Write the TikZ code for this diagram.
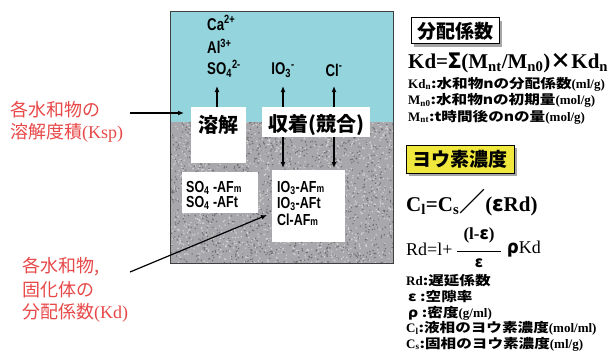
\documentclass[tikz,border=0pt]{standalone}
\usepackage{fontspec}
\setmainfont{Liberation Serif}
\newfontfamily\jp{Noto Sans CJK JP}
\newfontfamily\jpw{Noto Sans CJK JP}[FakeStretch=1.2]
\newfontfamily\chem{Liberation Sans}[FakeStretch=0.78]
\usetikzlibrary{arrows.meta,shadows}
\definecolor{cyanbg}{RGB}{148,212,221}
\definecolor{graybg}{RGB}{168,168,172}
\definecolor{lblred}{RGB}{232,72,72}
\definecolor{ttlyellow}{RGB}{240,232,60}
\newcommand{\sbs}[1]{\textsubscript{#1}}
\newcommand{\sps}[1]{\textsuperscript{#1}}
\tikzset{
  whitebox/.style={fill=white, inner sep=0pt},
  chemtxt/.style={font=\chem\bfseries\fontsize{17}{17}\selectfont, inner sep=0pt},
  boxtxt/.style={font=\chem\bfseries\fontsize{16}{16}\selectfont, inner sep=0pt, anchor=west},
  kanji/.style={font=\jp\bfseries\fontsize{20}{20}\selectfont, inner sep=0pt},
  redtxt/.style={text=lblred, font=\jp\fontsize{18}{18}\selectfont, inner sep=0pt, anchor=west},
  arr/.style={-{Latex[length=6pt,width=5pt]}, line width=1.4pt},
  small/.style={font=\jpw\bfseries\fontsize{13}{13}\selectfont, inner sep=0pt, anchor=west},
  titlebox/.style={draw, line width=1pt, inner sep=3pt, font=\jp\bfseries\fontsize{19}{19}\selectfont,
     drop shadow={shadow xshift=3pt, shadow yshift=-3pt, fill=gray!70, opacity=1}},
  frm/.style={font=\bfseries\fontsize{21}{21}\selectfont, inner sep=0pt, anchor=west},
  frms/.style={font=\fontsize{18}{18}\selectfont, inner sep=0pt, anchor=west}
}
\begin{document}
\begin{tikzpicture}[x=1pt,y=-1pt]
\useasboundingbox[fill=white] (0,0) rectangle (613,353);
% main container
\fill[cyanbg] (170,12) rectangle (393,122);
\fill[graybg] (170,122) rectangle (393,263);
\pgfmathsetseed{7}
\begin{scope}
\clip (170,122) rectangle (393,263);
\fill[gray!45!black, opacity=0.5] foreach \i in {1,...,1400} { ({170+223*rnd},{122+141*rnd}) circle (0.8) };
\fill[white, opacity=0.5] foreach \i in {1,...,1400} { ({170+223*rnd},{122+141*rnd}) circle (0.8) };
\end{scope}
\draw[gray!50!black, line width=1pt] (170,12) rectangle (393,263);

% white boxes
\node (dbox) [whitebox, minimum width=55pt, minimum height=56pt] at (218.5,135) {};
\node (dtext) [kanji] at (218.5,125) {溶解};
\node (sbox) [whitebox, minimum width=108pt, minimum height=30pt] at (316,122) {};
\node (stext) [kanji] at (316,125) {収着(競合)};
\node (abox) [whitebox, minimum width=76pt, minimum height=41pt] at (220,192.5) {};
\node (a1) [boxtxt] at (186,188) {SO\sbs{4} -AF\fontsize{11}{11}\selectfont m};
\node (a2) [boxtxt] at (186,203) {SO\sbs{4} -AFt};
\node (bbox) [whitebox, minimum width=73pt, minimum height=72pt] at (308.5,206) {};
\node (b1) [boxtxt] at (277,188) {IO\sbs{3}-AF\fontsize{11}{11}\selectfont m};
\node (b2) [boxtxt] at (277,204) {IO\sbs{3}-AFt};
\node (b3) [boxtxt] at (277,220) {Cl-AF\fontsize{11}{11}\selectfont m};

% ions
\node (ca) [chemtxt, anchor=west] at (207,23) {Ca\sps{2+}};
\node (al) [chemtxt, anchor=west] at (207,46) {Al\sps{3+}};
\node (so) [chemtxt, anchor=west] at (207,69) {SO\sbs{4}\sps{2-}};
\node (io) [chemtxt] at (283,70) {IO\sbs{3}\sps{-}};
\node (cl) [chemtxt] at (334,70) {Cl\sps{-}};

\coordinate (d1) at (217,107);
\coordinate (d2) at (217,86);
\draw[arr] (d1) -- (d2);
\coordinate (i1) at (283,107);
\coordinate (i2) at (283,86);
\draw[arr] (i1) -- (i2);
\coordinate (c1) at (334,107);
\coordinate (c2) at (334,86);
\draw[arr] (c1) -- (c2);
\coordinate (i3) at (283,137);
\coordinate (i4) at (283,168);
\draw[arr] (i3) -- (i4);
\coordinate (c3) at (334,137);
\coordinate (c4) at (334,168);
\draw[arr] (c3) -- (c4);

% red labels
\node (r1) [redtxt] at (10,110) {各水和物の};
\node (r2) [redtxt] at (10,133) {溶解度積\fontspec{Liberation Serif}(Ksp)};
\coordinate (r1e) at (130,113);
\coordinate (r1t) at (184,113);
\draw[arr, line width=1.2pt] (r1e) -- (r1t);
\node (k1) [redtxt] at (22,267) {各水和物,};
\node (k2) [redtxt] at (22,290) {固化体の};
\node (k3) [redtxt] at (22,313) {分配係数\fontspec{Liberation Serif}(Kd)};
\coordinate (k1e) at (130,272);
\coordinate (k1t) at (267,215);
\draw[arr, line width=1.2pt] (k1e) -- (k1t);

% right column
\node (t1) [titlebox, fill=white, minimum width=88pt, minimum height=26pt] at (455,31) {分配係数};
\node (f1) [frm] at (408,63) {Kd={\jp Σ}(M\sbs{nt}/M\sbs{n0}){\jp ×}Kd\sbs{n}};
\node (l1) [small] at (408,84) {\rmfamily Kd\sbs{n}\jpw :水和物nの分配係数\rmfamily (ml/g)};
\node (l2) [small] at (408,100) {\rmfamily M\sbs{n0}\jpw :水和物nの初期量\rmfamily (mol/g)};
\node (l3) [small] at (408,117) {\rmfamily M\sbs{nt}\jpw :t時間後のnの量\rmfamily (mol/g)};

\node (t2) [titlebox, fill=ttlyellow, minimum width=108pt, minimum height=28pt] at (460,159) {ヨウ素濃度};
\node (f2) [frm] at (406,203) {C\sbs{l}=C\sbs{s}{\fontsize{26}{26}\selectfont\jp\bfseries ／}({\jp ε}Rd)};
\node (f3) [frms] at (406,249) {Rd=l+};
\node (f3n) [font=\bfseries\fontsize{17}{17}\selectfont, inner sep=0pt] at (479,235) {(l-{\jp ε})};
\node (f3d) [font=\jp\bfseries\fontsize{15}{15}\selectfont, inner sep=0pt] at (479,263) {ε};
\coordinate (fb1) at (457,251);
\coordinate (fb2) at (501,251);
\draw[line width=1pt] (fb1) -- (fb2);
\node (f3r) [frms] at (507,249) {{\jp\bfseries ρ}Kd};
\node (m1) [small] at (406,281) {\rmfamily Rd\jpw :遅延係数};
\node (m2) [small] at (408,297) {ε :空隙率};
\node (m3) [small] at (408,313) {ρ :密度\rmfamily (g/ml)};
\node (m4) [small] at (406,328) {\rmfamily C\sbs{l}\jpw :液相のヨウ素濃度\rmfamily (mol/ml)};
\node (m5) [small] at (406,344) {\rmfamily C\sbs{s}\jpw :固相のヨウ素濃度\rmfamily (ml/g)};
\end{tikzpicture}
\end{document}
